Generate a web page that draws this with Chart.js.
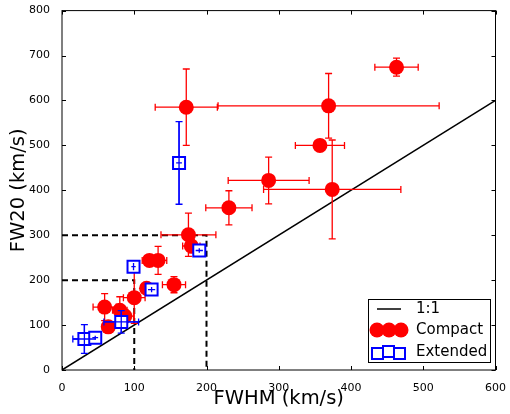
<!DOCTYPE html>
<html>
<head>
<meta charset="utf-8">
<script src="https://cdn.jsdelivr.net/npm/chart.js@4/dist/chart.umd.min.js"></script>
<style>
  html, body { margin: 0; padding: 0; background: #fff; }
  #wrap { width: 510px; height: 414px; }
</style>
</head>
<body>
<div id="wrap"><canvas id="fwChart"></canvas></div>
<script>
// Compact sources: FWHM, FW20 and their errors (km/s)
const compactX    = [463, 172, 369, 357, 374, 286, 231, 175, 179, 121, 133, 155, 117, 100, 59, 80, 87, 64];
const compactY    = [674, 585, 588, 500, 402, 422, 361, 301, 276, 244, 244, 190, 182, 161, 140, 133, 120, 96];
const compactXErr = [30, 43, 153, 34, 95, 56, 32, 38, 12, 10, 12, 16, 8, 15, 16, 10, 12, 8];
const compactYErr = [20, 85, 72, 8, 110, 52, 38, 48, 15, 10, 31, 18, 10, 57, 30, 30, 15, 10];

// Extended sources
const extendedX    = [162, 190, 99, 124, 82, 31, 46];
const extendedY    = [461, 266, 230, 179, 107, 69, 72];
const extendedXErr = [4, 5, 3, 5, 24, 16, 4];
const extendedYErr = [92, 5, 8, 6, 25, 32, 4];

// reference lines
const oneToOneX = [0, 600];
const cut300X = [0, 200, 200];
const cut300Y = [300, 300, 0];
const cut200X = [0, 100, 100];
const cut200Y = [200, 200, 0];

const xMax = 600;
const yMax = 800;

function toPoints(xs, ys) {
    return xs.map((x, i) => ({ x: x, y: ys[i] }));
}

// error bars drawn under each dataset's markers
const errorBars = {
    id: 'errorBars',
    beforeDatasetDraw(chart, args) {
        const ds = chart.data.datasets[args.index];
        if (!ds.errX) return;
        const ctx = chart.ctx;
        const xs = chart.scales.x, ys = chart.scales.y;
        const cap = 3.5;
        ctx.save();
        ctx.strokeStyle = ds.errColor;
        ctx.lineWidth = 1.3;
        ds.data.forEach((p, i) => {
            const px = xs.getPixelForValue(p.x);
            const py = ys.getPixelForValue(p.y);
            const x0 = xs.getPixelForValue(p.x - ds.errX[i]);
            const x1 = xs.getPixelForValue(p.x + ds.errX[i]);
            const y0 = ys.getPixelForValue(p.y - ds.errY[i]);
            const y1 = ys.getPixelForValue(p.y + ds.errY[i]);
            ctx.beginPath();
            ctx.moveTo(x0, py); ctx.lineTo(x1, py);
            ctx.moveTo(x0, py - cap); ctx.lineTo(x0, py + cap);
            ctx.moveTo(x1, py - cap); ctx.lineTo(x1, py + cap);
            ctx.moveTo(px, y0); ctx.lineTo(px, y1);
            ctx.moveTo(px - cap, y0); ctx.lineTo(px + cap, y0);
            ctx.moveTo(px - cap, y1); ctx.lineTo(px + cap, y1);
            ctx.stroke();
        });
        ctx.restore();
    },
    afterDatasetDraw(chart, args) {
        // small error crosses show through the open squares
        const ds = chart.data.datasets[args.index];
        if (!ds.errX || ds.pointStyle !== 'rect') return;
        const ctx = chart.ctx;
        const xs = chart.scales.x, ys = chart.scales.y;
        ctx.save();
        ctx.strokeStyle = ds.errColor;
        ctx.lineWidth = 1.3;
        ds.data.forEach((p, i) => {
            const px = xs.getPixelForValue(p.x);
            const py = ys.getPixelForValue(p.y);
            const x0 = xs.getPixelForValue(p.x - ds.errX[i]);
            const x1 = xs.getPixelForValue(p.x + ds.errX[i]);
            const y0 = ys.getPixelForValue(p.y - ds.errY[i]);
            const y1 = ys.getPixelForValue(p.y + ds.errY[i]);
            ctx.beginPath();
            ctx.moveTo(x0, py); ctx.lineTo(x1, py);
            ctx.moveTo(px, y0); ctx.lineTo(px, y1);
            ctx.stroke();
        });
        ctx.restore();
    }
};

// matplotlib-like frame with inward ticks, plus the legend box
const frameAndLegend = {
    id: 'frameAndLegend',
    afterDraw(chart) {
        const ctx = chart.ctx;
        const a = chart.chartArea;
        const xs = chart.scales.x, ys = chart.scales.y;
        ctx.save();
        ctx.strokeStyle = '#000';
        ctx.lineWidth = 1;
        ctx.strokeRect(a.left, a.top, a.right - a.left, a.bottom - a.top);
        ctx.beginPath();
        xs.ticks.forEach(t => {
            const px = Math.round(xs.getPixelForValue(t.value)) + 0.5;
            ctx.moveTo(px, a.bottom); ctx.lineTo(px, a.bottom - 4);
            ctx.moveTo(px, a.top); ctx.lineTo(px, a.top + 4);
        });
        ys.ticks.forEach(t => {
            const py = Math.round(ys.getPixelForValue(t.value)) + 0.5;
            ctx.moveTo(a.left, py); ctx.lineTo(a.left + 4, py);
            ctx.moveTo(a.right, py); ctx.lineTo(a.right - 4, py);
        });
        ctx.stroke();

        // legend
        const lx = 368, ly = 299, lw = 122, lh = 63;
        ctx.fillStyle = '#fff';
        ctx.fillRect(lx, ly, lw, lh);
        ctx.strokeRect(lx + 0.5, ly + 0.5, lw, lh);
        const rows = [ly + 10, ly + 31, ly + 53];
        ctx.lineWidth = 1.5;
        ctx.beginPath();
        ctx.moveTo(377, rows[0]); ctx.lineTo(401, rows[0]);
        ctx.stroke();
        ctx.fillStyle = '#ff0000';
        [377, 389, 401].forEach(cx => {
            ctx.beginPath();
            ctx.arc(cx, rows[1], 7.5, 0, Math.PI * 2);
            ctx.fill();
        });
        ctx.strokeStyle = '#0000ff';
        ctx.lineWidth = 2;
        [[372, 1], [383, -1], [394, 1]].forEach(([sx, dy]) => {
            ctx.strokeRect(sx, rows[2] - 5 + dy, 11, 11);
        });
        ctx.fillStyle = '#000';
        ctx.font = '15px "DejaVu Sans"';
        ctx.textBaseline = 'middle';
        ctx.fillText('1:1', 416, rows[0]);
        ctx.fillText('Compact', 416, rows[1]);
        ctx.fillText('Extended', 416, rows[2]);
        ctx.restore();
    }
};

const ctx = document.getElementById('fwChart').getContext('2d');
const fwChart = new Chart(ctx, {
    type: 'scatter',
    data: {
        datasets: [
            {
                label: 'Extended',
                data: toPoints(extendedX, extendedY),
                errX: extendedXErr,
                errY: extendedYErr,
                errColor: '#0000ff',
                pointStyle: 'rect',
                pointRadius: 8.5,
                pointBorderWidth: 2,
                borderColor: '#0000ff',
                backgroundColor: '#ffffff',
                order: 1
            },
            {
                label: 'Compact',
                data: toPoints(compactX, compactY),
                errX: compactXErr,
                errY: compactYErr,
                errColor: '#ff0000',
                pointStyle: 'circle',
                pointRadius: 7.5,
                pointBorderWidth: 0,
                borderColor: '#ff0000',
                backgroundColor: '#ff0000',
                order: 2
            },
            {
                label: '1:1',
                type: 'line',
                data: toPoints(oneToOneX, oneToOneX),
                borderColor: '#000',
                borderWidth: 1.5,
                pointRadius: 0,
                fill: false,
                order: 3
            },
            {
                label: 'cut300',
                type: 'line',
                data: toPoints(cut300X, cut300Y),
                borderColor: '#000',
                borderWidth: 2,
                borderDash: [6, 4],
                pointRadius: 0,
                fill: false,
                order: 4
            },
            {
                label: 'cut200',
                type: 'line',
                data: toPoints(cut200X, cut200Y),
                borderColor: '#000',
                borderWidth: 2,
                borderDash: [6, 4],
                pointRadius: 0,
                fill: false,
                order: 4
            }
        ]
    },
    options: {
        responsive: true,
        maintainAspectRatio: false,
        animation: false,
        layout: { padding: { top: 10, right: 12 } },
        plugins: {
            legend: { display: false },
            tooltip: { enabled: false }
        },
        scales: {
            x: {
                type: 'linear',
                min: 0,
                max: xMax,
                grid: { display: false },
                border: { display: false },
                ticks: { stepSize: 100, color: '#000', padding: 4, font: { family: 'DejaVu Sans', size: 11 } },
                title: { display: true, text: 'FWHM (km/s)', color: '#000', font: { family: 'DejaVu Sans', size: 19.5 }, padding: { top: 0, bottom: 3 } },
                afterFit(scale) { scale.height = 44; }
            },
            y: {
                type: 'linear',
                min: 0,
                max: yMax,
                grid: { display: false },
                border: { display: false },
                ticks: { stepSize: 100, color: '#000', padding: 4, font: { family: 'DejaVu Sans', size: 11 } },
                title: { display: true, text: 'FW20 (km/s)', color: '#000', font: { family: 'DejaVu Sans', size: 19.5 }, padding: { top: 7, bottom: 0 } },
                afterFit(scale) { scale.width = 62; }
            }
        }
    },
    plugins: [errorBars, frameAndLegend]
});
</script>
</body>
</html>
